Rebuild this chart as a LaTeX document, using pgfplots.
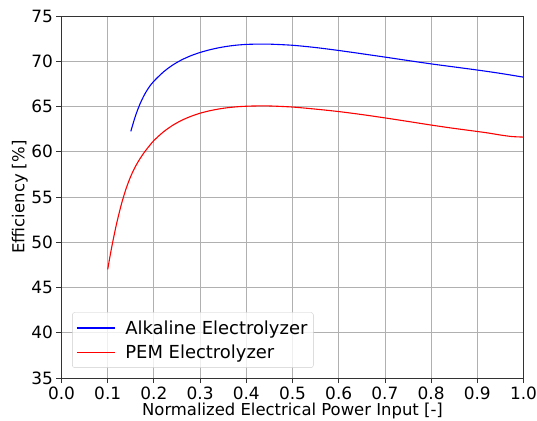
\documentclass[border=0pt]{standalone}
\usepackage{pgfplots}
\pgfplotsset{compat=1.18}
\usepackage{fontspec}
\setmainfont{DejaVu Sans}
\definecolor{gridgray}{RGB}{176,176,176}
\definecolor{legframe}{RGB}{204,204,204}
\begin{document}
\begin{tikzpicture}
\begin{axis}[
  scale only axis,
  width=462bp, height=362bp,
  xmin=0, xmax=1, ymin=35, ymax=75,
  xtick={0,0.1,...,1.0},
  ytick={35,40,...,75},
  xticklabels={0.0,0.1,0.2,0.3,0.4,0.5,0.6,0.7,0.8,0.9,1.0},
  /pgf/number format/assume math mode=true,
  tick label style={font=\fontsize{17}{17}\selectfont},
  tick align=outside,
  tick pos=left,
  major tick length=5bp,
  major tick style={line width=0.8bp, black!80},
  axis line style={line width=0.8bp, black!80},
  grid=major,
  major grid style={line width=0.8bp, gridgray},
  xlabel={Normalized Electrical Power Input [-]},
  ylabel={Efficiency [\%]},
  label style={font=\fontsize{16.5}{16.5}\selectfont},
  xlabel style={at={(axis description cs:0.5,-0.090)}, anchor=center},
  ylabel style={at={(axis description cs:-0.090,0.5)}, anchor=center, rotate=0},
  legend style={at={(axis description cs:0.023,0.028)}, anchor=south west,
    font=\fontsize{18}{18}\selectfont, draw=legframe, rounded corners=2.5bp,
    fill=white, fill opacity=0.8, text opacity=1,
    row sep=5bp, column sep=8bp, inner xsep=4bp, inner ysep=6bp},
  legend cell align=left,
  legend image code/.code={\draw[#1, line width=1.1bp] (0bp,0bp) -- (38bp,0bp);},
]
\addplot[blue, line width=1.1bp, smooth] coordinates {
(0.15,62.25)(0.16,63.95)(0.17,65.29)(0.18,66.35)(0.19,67.17)(0.20,67.80)(0.22,68.79)(0.24,69.56)(0.26,70.15)(0.28,70.61)(0.30,70.97)(0.32,71.255)(0.34,71.485)(0.36,71.66)(0.38,71.785)(0.40,71.86)(0.42,71.89)(0.45,71.89)(0.50,71.765)(0.55,71.515)(0.60,71.19)(0.65,70.83)(0.70,70.46)(0.75,70.08)(0.80,69.71)(0.85,69.37)(0.90,69.03)(0.95,68.66)(1.00,68.24)
};
\addlegendentry{Alkaline Electrolyzer}
\addplot[red, line width=1.1bp, smooth] coordinates {
(0.100,47.00)(0.105,48.45)(0.110,49.80)(0.115,51.05)(0.120,52.22)(0.130,54.27)(0.140,55.95)(0.150,57.30)(0.160,58.37)(0.170,59.24)(0.180,59.99)(0.190,60.64)(0.200,61.24)(0.220,62.17)(0.240,62.90)(0.260,63.47)(0.280,63.91)(0.300,64.26)(0.320,64.52)(0.340,64.72)(0.360,64.87)(0.380,64.97)(0.400,65.03)(0.420,65.06)(0.450,65.06)(0.500,64.94)(0.550,64.71)(0.600,64.44)(0.650,64.11)(0.700,63.74)(0.750,63.35)(0.800,62.95)(0.850,62.58)(0.900,62.24)(0.925,62.06)(0.950,61.85)(0.975,61.68)(1.000,61.62)
};
\addlegendentry{PEM Electrolyzer}
\end{axis}
\pgfresetboundingbox
\path[use as bounding box] (-61.5bp,-43bp) rectangle (475.5bp,378bp);
\end{tikzpicture}
\end{document}
